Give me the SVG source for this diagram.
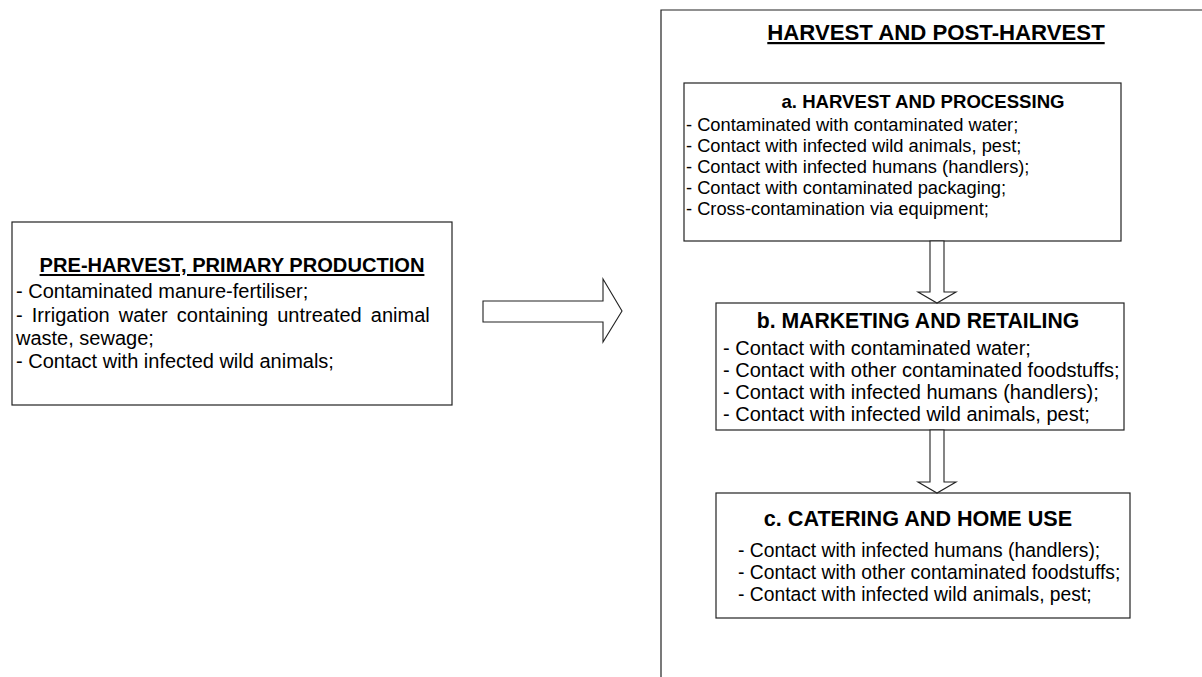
<svg xmlns="http://www.w3.org/2000/svg" width="1202" height="677" viewBox="0 0 1202 677">
<style>
  .box { fill: #ffffff; stroke: #222222; stroke-width: 1.2; }
  .frame { fill: none; stroke: #222222; stroke-width: 1.2; }
  .arrow { fill: #ffffff; stroke: #222222; stroke-width: 1.1; stroke-linejoin: miter; }
  text { font-family: "Liberation Sans", Arial, sans-serif; fill: #000000; }
  .h { font-weight: bold; text-anchor: middle; }
  .u { text-decoration: underline; }
  .t20 { font-size: 20px; }
  .ta { font-size: 18.3px; }
  .tc { font-size: 19.3px; }
</style>
<rect width="1202" height="677" fill="#ffffff"/>

<g id="pre-harvest">
  <rect class="box" x="12" y="222" width="440" height="183"/>
  <text class="h u" font-size="20.1" x="232" y="272">PRE-HARVEST, PRIMARY PRODUCTION</text>
  <text class="t20" x="16" y="298">- Contaminated manure-fertiliser;</text>
  <text class="t20" x="16" y="322" word-spacing="3.6">- Irrigation water containing untreated animal</text>
  <text class="t20" x="16" y="345">waste, sewage;</text>
  <text class="t20" x="16" y="368">- Contact with infected wild animals;</text>
</g>

<g id="harvest-post-harvest">
  <path class="frame" d="M661,690 L661,10 L1215,10"/>
  <text class="h u" font-size="22.2" x="936" y="40">HARVEST AND POST-HARVEST</text>
</g>

<g id="harvest-processing">
  <rect class="box" x="684" y="83" width="437" height="158"/>
  <text class="h" font-size="18.6" x="923" y="108">a. HARVEST AND PROCESSING</text>
  <text class="ta" x="686" y="131">- Contaminated with contaminated water;</text>
  <text class="ta" x="686" y="152">- Contact with infected wild animals, pest;</text>
  <text class="ta" x="686" y="173">- Contact with infected humans (handlers);</text>
  <text class="ta" x="686" y="194">- Contact with contaminated packaging;</text>
  <text class="ta" x="686" y="215">- Cross-contamination via equipment;</text>
</g>

<g id="marketing-retailing">
  <rect class="box" x="716" y="303" width="408" height="127"/>
  <text class="h" font-size="21.2" x="918" y="328">b. MARKETING AND RETAILING</text>
  <text class="t20" x="723" y="355">- Contact with contaminated water;</text>
  <text class="t20" x="723" y="377">- Contact with other contaminated foodstuffs;</text>
  <text class="t20" x="723" y="399">- Contact with infected humans (handlers);</text>
  <text class="t20" x="723" y="421">- Contact with infected wild animals, pest;</text>
</g>

<g id="catering-home-use">
  <rect class="box" x="716" y="493" width="414" height="125"/>
  <text class="h" font-size="21.6" x="918" y="526">c. CATERING AND HOME USE</text>
  <text class="tc" x="738" y="557">- Contact with infected humans (handlers);</text>
  <text class="tc" x="738" y="579">- Contact with other contaminated foodstuffs;</text>
  <text class="tc" x="738" y="601">- Contact with infected wild animals, pest;</text>
</g>

<g id="connectors">
  <polygon class="arrow" points="483,301 603,301 603,279 622,311 603,342 603,322 483,322"/>
  <polygon class="arrow" points="930,241 944,241 944,292 956,292 937,303 918,292 930,292"/>
  <polygon class="arrow" points="930,430 944,430 944,482 956,482 937,493 918,482 930,482"/>
</g>
</svg>
